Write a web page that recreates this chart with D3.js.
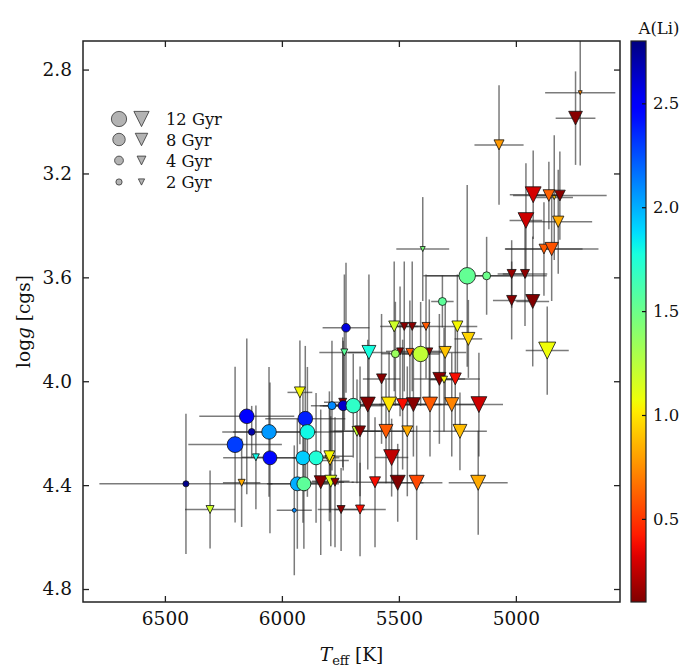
<!DOCTYPE html>
<html>
<head>
<meta charset="utf-8">
<script src="https://cdn.jsdelivr.net/npm/d3@7/dist/d3.min.js"></script>
<style>
  body { margin: 0; background: #fff; }
  svg text { font-family: "DejaVu Serif", serif; fill: #111; }
</style>
</head>
<body>
<svg id="chart" width="698" height="672"></svg>
<script>
// ── data ─────────────────────────────────────────────────────
// limit: 1 = upper limit on A(Li) (triangle), 0 = detection (circle)
const teff  = [4725,4745,5072,4926,4859,4836,4812,4957,4819,4880,4847,5398,5208,5125,5018,4961,5018,4928,5314,5250,
               5203,4866,5407,5302,5726,5520,5477,5443,5384,5733,5628,5515,5495,5453,5370,5574,5327,5307,5259,5923,
               5786,5738,5695,5740,5633,5542,5484,5438,5367,5274,5158,6150,5900,6129,6055,5891,5679,5666,5555,5464,
               5239,6200,6111,6051,5910,5854,5794,5797,5531,6410,6172,5934,5906,5834,5791,5773,5602,5505,5424,5161,
               6307,5947,5747,5666];
const logg  = [2.889,2.987,3.09,3.282,3.285,3.293,3.285,3.381,3.386,3.491,3.491,3.491,3.594,3.594,3.587,3.587,3.689,3.693,3.693,3.789,
               3.837,3.882,3.895,3.889,3.794,3.789,3.789,3.789,3.789,3.889,3.889,3.894,3.885,3.889,3.885,3.991,3.991,3.994,3.991,4.043,
               4.094,4.094,4.094,4.081,4.09,4.09,4.09,4.09,4.09,4.09,4.09,4.135,4.144,4.195,4.195,4.195,4.193,4.193,4.193,4.193,
               4.193,4.244,4.293,4.295,4.295,4.295,4.305,4.289,4.294,4.395,4.391,4.395,4.395,4.389,4.385,4.389,4.389,4.391,4.391,4.391,
               4.494,4.497,4.494,4.494];
const eTeff = [150,85,105,100,60,80,200,70,145,165,200,113,188,257,60,95,80,70,48,85,
               59,92,80,90,100,60,60,60,50,107,90,60,60,70,60,80,110,60,105,53,
               90,100,130,80,150,120,100,120,100,100,103,203,171,80,200,150,100,130,120,100,
               115,200,60,200,120,100,80,100,71,370,80,130,150,100,80,80,100,110,110,126,
               107,75,100,110];
const eLogg = [0.28,0.18,0.23,0.17,0.13,0.24,0.17,0.22,0.2,0.18,0.2,0.2,0.35,0.15,0.13,0.2,0.15,0.25,0.1,0.2,
               0.15,0.17,0.2,0.2,0.25,0.25,0.25,0.25,0.2,0.3,0.3,0.2,0.25,0.2,0.2,0.25,0.25,0.2,0.2,0.2,
               0.25,0.25,0.2,0.25,0.25,0.2,0.25,0.2,0.2,0.2,0.2,0.3,0.28,0.1,0.25,0.25,0.2,0.25,0.2,0.25,
               0.15,0.3,0.2,0.29,0.25,0.25,0.2,0.25,0.15,0.27,0.17,0.25,0.25,0.28,0.25,0.25,0.25,0.15,0.22,0.2,
               0.15,0.25,0.16,0.18];
const aLi   = [0.72,0.12,0.78,0.30,0.62,0.92,0.12,0.28,0.83,0.60,0.58,1.45,1.53,1.50,0.15,0.13,0.12,0.10,1.55,1.05,
               0.95,1.07,1.22,0.90,2.58,1.18,0.12,0.12,0.60,1.55,1.78,1.35,0.12,0.60,0.12,0.12,0.12,1.05,0.38,1.05,
               2.10,2.62,1.70,0.12,0.12,1.00,0.38,0.12,0.60,0.72,0.28,2.48,2.38,2.70,2.06,1.80,1.20,0.12,0.60,0.83,
               0.88,2.30,1.80,2.45,1.92,1.75,0.92,1.05,0.25,2.77,0.83,2.00,1.55,0.12,1.12,0.12,0.38,0.10,0.55,0.83,
               1.18,2.10,0.12,0.38];
const age   = [0.8,9.7,5.2,13,7,0.8,6,12.7,6.6,4.9,9.1,1.3,14,3.3,4.2,4.2,5.2,10,3.3,6.2,
               8.7,15,12.2,7.4,3.8,6.2,3.3,3.3,3.3,2.5,10,3.3,2.5,3.3,2.5,5.2,8.7,2.5,7.4,6.2,
               3.3,5.2,11,3.3,11.6,11.6,7.4,10,11.6,10,13,11,11,2.3,11,11,5,6.2,10,6.2,
               10,13,2.5,10,10,10,5,6.2,13,1.9,2.5,10,10,8.7,7.4,3.3,6.2,11.6,11.6,11.6,
               3.3,0.8,3.3,4.2];
const limit = [1,1,1,1,1,1,1,1,1,1,1,1,0,0,1,1,1,1,0,1,
               1,1,0,1,0,1,1,1,1,1,1,0,1,1,1,1,1,1,1,1,
               0,0,0,1,1,1,1,1,1,1,1,0,0,0,0,0,1,1,1,1,
               1,0,1,0,0,0,1,1,1,0,1,0,0,1,1,1,1,1,1,1,
               1,0,1,1];

const xTicks = [6500, 6000, 5500, 5000];
const yTicks = [2.8, 3.2, 3.6, 4.0, 4.4, 4.8];
const cTicks = [0.5, 1.0, 1.5, 2.0, 2.5];
const legendAges = [12, 8, 4, 2];

// ── layout ───────────────────────────────────────────────────
const svg = d3.select("#chart");
const L = 83, R = 620, T = 41, B = 602;
const CB = { x: 631, w: 15 };

const x = d3.scaleLinear().domain([6850, 4555]).range([L, R]);
const y = d3.scaleLinear().domain([2.69, 4.85]).range([T, B]);
const cy = d3.scaleLinear().domain([0.1, 2.8]).range([B, T]);
const rad = a => 2.2 * Math.sqrt(a);

// matplotlib "jet", reversed (high A(Li) = dark blue)
const jr = d3.scaleLinear().domain([0, 0.35, 0.66, 0.89, 1]).range([0, 0, 1, 1, 0.5]).clamp(true);
const jg = d3.scaleLinear().domain([0, 0.125, 0.375, 0.64, 0.91, 1]).range([0, 0, 1, 1, 0, 0]).clamp(true);
const jb = d3.scaleLinear().domain([0, 0.11, 0.34, 0.65, 1]).range([0.5, 1, 1, 0, 0]).clamp(true);
const norm = d3.scaleLinear().domain([0.1, 2.8]).range([1, 0]).clamp(true);
const jet = t => d3.rgb(jr(t) * 255, jg(t) * 255, jb(t) * 255).formatHex();
const colorOf = a => jet(norm(a));

const pts = teff.map((t, i) => ({
  t, g: logg[i], et: eTeff[i], eg: eLogg[i], a: aLi[i], age: age[i], lim: limit[i]
}));

svg.append("clipPath").attr("id", "clip")
  .append("rect").attr("x", L).attr("y", T).attr("width", R - L).attr("height", B - T);

const plot = svg.append("g").attr("clip-path", "url(#clip)");

// error bars first
const eb = plot.append("g")
  .attr("stroke", "#2a2a2a").attr("stroke-opacity", 0.62).attr("stroke-width", 1.5);
eb.selectAll(".ex").data(pts).join("line")
  .attr("x1", d => x(d.t - d.et)).attr("x2", d => x(d.t + d.et))
  .attr("y1", d => y(d.g)).attr("y2", d => y(d.g));
eb.selectAll(".ey").data(pts).join("line")
  .attr("x1", d => x(d.t)).attr("x2", d => x(d.t))
  .attr("y1", d => y(d.g - d.eg)).attr("y2", d => y(d.g + d.eg));

const tri = (cx, cy0, r) => `M${cx - r},${cy0 - r}L${cx + r},${cy0 - r}L${cx},${cy0 + r}Z`;

// upper limits (triangles), then detections (circles)
plot.append("g").selectAll("path")
  .data(pts.filter(d => d.lim === 1)).join("path")
    .attr("d", d => tri(x(d.t), y(d.g), rad(d.age)))
    .attr("fill", d => colorOf(d.a))
    .attr("stroke", "#111").attr("stroke-width", 0.8);

plot.append("g").selectAll("circle")
  .data(pts.filter(d => d.lim === 0)).join("circle")
    .attr("cx", d => x(d.t)).attr("cy", d => y(d.g)).attr("r", d => rad(d.age))
    .attr("fill", d => colorOf(d.a))
    .attr("stroke", "#111").attr("stroke-width", 0.8);

// ── axes ─────────────────────────────────────────────────────
const styleAxis = g => {
  g.select(".domain").remove();
  g.selectAll(".tick line").attr("stroke", "#222").attr("stroke-width", 1.3);
  g.selectAll(".tick text").attr("font-size", "18.5px").attr("fill", "#111");
};

svg.append("g").attr("transform", `translate(0,${B})`)
  .call(d3.axisBottom(x).tickValues(xTicks).tickSize(-6).tickPadding(10).tickFormat(d3.format("d")))
  .call(styleAxis);
svg.append("g").attr("transform", `translate(0,${T})`)
  .call(d3.axisTop(x).tickValues(xTicks).tickSize(-6).tickFormat(""))
  .call(styleAxis);
svg.append("g").attr("transform", `translate(${L},0)`)
  .call(d3.axisLeft(y).tickValues(yTicks).tickSize(-6).tickPadding(11).tickFormat(d3.format(".1f")))
  .call(styleAxis);
svg.append("g").attr("transform", `translate(${R},0)`)
  .call(d3.axisRight(y).tickValues(yTicks).tickSize(-6).tickFormat(""))
  .call(styleAxis);

svg.append("rect")
  .attr("x", L).attr("y", T).attr("width", R - L).attr("height", B - T)
  .attr("fill", "none").attr("stroke", "#222").attr("stroke-width", 1.5);

// axis labels
const xl = svg.append("text").attr("x", (L + R) / 2).attr("y", 661)
  .attr("text-anchor", "middle").attr("font-size", "18.5px");
xl.append("tspan").attr("font-style", "italic").text("T");
xl.append("tspan").attr("font-size", "13px").attr("dy", 4).text("eff");
xl.append("tspan").attr("dy", -4).text(" [K]");

const yl = svg.append("text")
  .attr("transform", `translate(30,${(T + B) / 2}) rotate(-90)`)
  .attr("text-anchor", "middle").attr("font-size", "18.5px");
yl.append("tspan").text("log");
yl.append("tspan").attr("font-style", "italic").text("g");
yl.append("tspan").text(" [cgs]");

// ── legend (marker size = age) ───────────────────────────────
const leg = svg.append("g");
const legY = [119, 139.5, 160.5, 182];
legendAges.forEach((a, i) => {
  const r = rad(a);
  leg.append("circle").attr("cx", 119).attr("cy", legY[i]).attr("r", r)
    .attr("fill", "#b3b3b3").attr("stroke", "#333").attr("stroke-width", 0.8);
  leg.append("path").attr("d", tri(141.5, legY[i], r))
    .attr("fill", "#b3b3b3").attr("stroke", "#333").attr("stroke-width", 0.8);
  leg.append("text").attr("x", 166).attr("y", legY[i] + 6)
    .attr("font-size", "16.3px").text(`${a} Gyr`);
});

// ── colorbar ─────────────────────────────────────────────────
const grad = svg.append("defs").append("linearGradient")
  .attr("id", "cbar").attr("x1", 0).attr("x2", 0).attr("y1", 1).attr("y2", 0);
d3.range(0, 1.0001, 0.02).forEach(s => {
  const a = 0.1 + s * 2.7;
  grad.append("stop").attr("offset", s).attr("stop-color", colorOf(a));
});
svg.append("rect").attr("x", CB.x).attr("y", T).attr("width", CB.w).attr("height", B - T)
  .attr("fill", "url(#cbar)").attr("stroke", "#222").attr("stroke-width", 1.2);

svg.append("g").attr("transform", `translate(${CB.x + CB.w},0)`)
  .call(d3.axisRight(cy).tickValues(cTicks).tickSize(-4).tickPadding(7).tickFormat(d3.format(".1f")))
  .call(g => {
    g.select(".domain").remove();
    g.selectAll(".tick line").attr("stroke", "#111").attr("stroke-width", 1.2);
    g.selectAll(".tick text").attr("font-size", "16.5px").attr("fill", "#111");
  });

svg.append("text").attr("x", 659).attr("y", 34)
  .attr("text-anchor", "middle").attr("font-size", "16.5px").text("A(Li)");
</script>
</body>
</html>
